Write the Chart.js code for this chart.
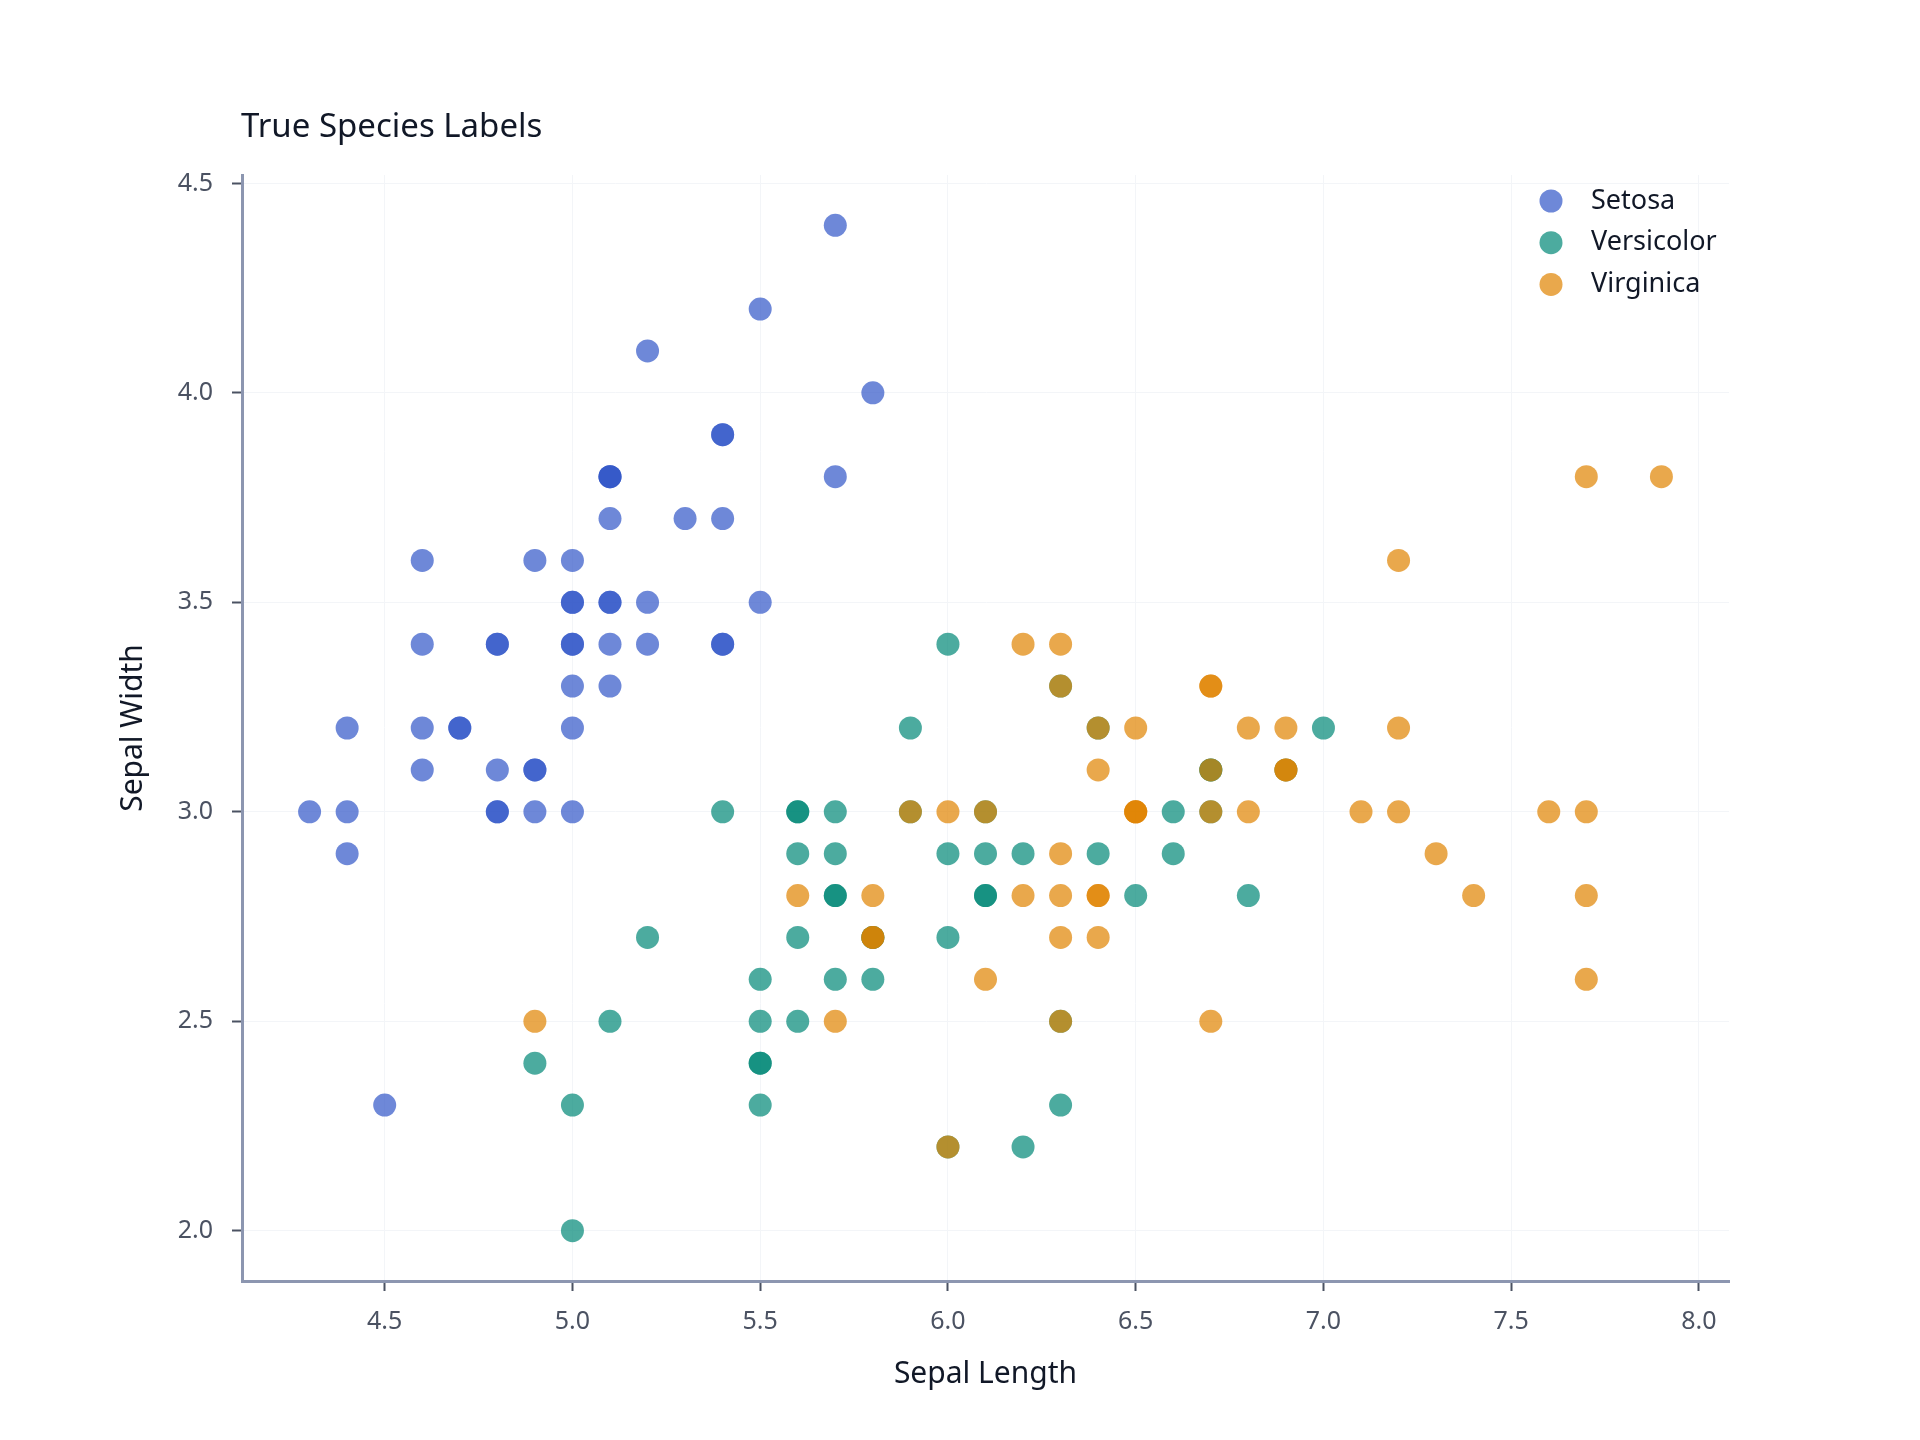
<!DOCTYPE html>
<html>
<head>
<meta charset="utf-8">
<script src="https://cdn.jsdelivr.net/npm/chart.js@4.4.1/dist/chart.umd.min.js"></script>
<style>
  html, body { margin: 0; padding: 0; background: #fff; }
  #wrap { width: 1920px; height: 1440px; }
</style>
</head>
<body>
<div id="wrap"><canvas id="chart" width="1920" height="1440"></canvas></div>
<script>
// Iris: sepal length / sepal width by species
const setosaLength = [5.1,4.9,4.7,4.6,5.0,5.4,4.6,5.0,4.4,4.9,5.4,4.8,4.8,4.3,5.8,5.7,5.4,5.1,5.7,5.1,5.4,5.1,4.6,5.1,4.8,5.0,5.0,5.2,5.2,4.7,4.8,5.4,5.2,5.5,4.9,5.0,5.5,4.9,4.4,5.1,5.0,4.5,4.4,5.0,5.1,4.8,5.1,4.6,5.3,5.0]
const setosaWidth  = [3.5,3.0,3.2,3.1,3.6,3.9,3.4,3.4,2.9,3.1,3.7,3.4,3.0,3.0,4.0,4.4,3.9,3.5,3.8,3.8,3.4,3.7,3.6,3.3,3.4,3.0,3.4,3.5,3.4,3.2,3.1,3.4,4.1,4.2,3.1,3.2,3.5,3.6,3.0,3.4,3.5,2.3,3.2,3.5,3.8,3.0,3.8,3.2,3.7,3.3]

const versicolorLength = [7.0,6.4,6.9,5.5,6.5,5.7,6.3,4.9,6.6,5.2,5.0,5.9,6.0,6.1,5.6,6.7,5.6,5.8,6.2,5.6,5.9,6.1,6.3,6.1,6.4,6.6,6.8,6.7,6.0,5.7,5.5,5.5,5.8,6.0,5.4,6.0,6.7,6.3,5.6,5.5,5.5,6.1,5.8,5.0,5.6,5.7,5.7,6.2,5.1,5.7]
const versicolorWidth  = [3.2,3.2,3.1,2.3,2.8,2.8,3.3,2.4,2.9,2.7,2.0,3.0,2.2,2.9,2.9,3.1,3.0,2.7,2.2,2.5,3.2,2.8,2.5,2.8,2.9,3.0,2.8,3.0,2.9,2.6,2.4,2.4,2.7,2.7,3.0,3.4,3.1,2.3,3.0,2.5,2.6,3.0,2.6,2.3,2.7,3.0,2.9,2.9,2.5,2.8]

const virginicaLength = [6.3,5.8,7.1,6.3,6.5,7.6,4.9,7.3,6.7,7.2,6.5,6.4,6.8,5.7,5.8,6.4,6.5,7.7,7.7,6.0,6.9,5.6,7.7,6.3,6.7,7.2,6.2,6.1,6.4,7.2,7.4,7.9,6.4,6.3,6.1,7.7,6.3,6.4,6.0,6.9,6.7,6.9,5.8,6.8,6.7,6.7,6.3,6.5,6.2,5.9]
const virginicaWidth  = [3.3,2.7,3.0,2.9,3.0,3.0,2.5,2.9,2.5,3.6,3.2,2.7,3.0,2.5,2.8,3.2,3.0,3.8,2.6,2.2,3.2,2.8,2.8,2.7,3.3,3.2,2.8,3.0,2.8,3.0,2.8,3.8,2.8,2.8,2.6,3.0,3.4,3.1,3.0,3.1,3.1,3.1,2.7,3.2,3.3,3.0,2.5,3.0,3.4,3.0]

const speciesNames = ['Setosa', 'Versicolor', 'Virginica']
const xTicks = [4.5, 5.0, 5.5, 6.0, 6.5, 7.0, 7.5, 8.0]
const yTicks = [2.0, 2.5, 3.0, 3.5, 4.0, 4.5]

const FONT = '"Noto Sans", "Open Sans", sans-serif'

function toPoints(xs, ys) {
  return xs.map((x, i) => ({ x, y: ys[i] }))
}

// order: lower value is painted later (on top), so virginica ends up on top
function makeSet(label, xs, ys, color, order) {
  return {
    label,
    data: toPoints(xs, ys),
    backgroundColor: color,
    borderWidth: 0,
    pointRadius: 11.5,
    pointHoverRadius: 11.5,
    order
  }
}

// title + legend drawn next to the plot area
const panelText = {
  id: 'panelText',
  afterDraw(chart) {
    const { ctx, chartArea } = chart
    ctx.save()
    ctx.textBaseline = 'middle'
    ctx.textAlign = 'left'
    ctx.fillStyle = '#111827'
    ctx.font = '33px ' + FONT
    ctx.fillText('True Species Labels', chartArea.left - 1, chartArea.top - 47)

    ctx.font = '27px ' + FONT
    chart.data.datasets.forEach((ds, i) => {
      const y = chartArea.top + 26 + i * 41.7
      const x = chartArea.right - 178
      ctx.fillStyle = ds.backgroundColor
      ctx.beginPath()
      ctx.arc(x, y, 11.5, 0, Math.PI * 2)
      ctx.fill()
      ctx.fillStyle = '#111827'
      ctx.fillText(ds.label, x + 40, y)
    })
    ctx.restore()
  }
}

const ctx = document.getElementById('chart')
new Chart(ctx, {
  type: 'scatter',
  data: {
    datasets: [
      makeSet(speciesNames[0], setosaLength, setosaWidth, 'rgba(49, 85, 199, 0.7)', 2),
      makeSet(speciesNames[1], versicolorLength, versicolorWidth, 'rgba(0, 136, 118, 0.7)', 1),
      makeSet(speciesNames[2], virginicaLength, virginicaWidth, 'rgba(224, 131, 0, 0.7)', 0)
    ]
  },
  options: {
    responsive: false,
    animation: false,
    devicePixelRatio: 1,
    layout: { padding: { top: 175, right: 191, bottom: 0, left: 100 } },
    plugins: {
      legend: { display: false },
      tooltip: { enabled: false },
      title: { display: false }
    },
    scales: {
      x: {
        type: 'linear',
        min: 4.12,
        max: 8.08,
        afterBuildTicks: (scale) => { scale.ticks = xTicks.map(v => ({ value: v })) },
        afterFit: (scale) => { scale.height = 159 },
        border: { display: true, color: '#8c96b0', width: 3 },
        grid: { color: '#f3f5f8', lineWidth: 1, tickLength: 10, tickColor: '#4b5262', tickWidth: 2 },
        ticks: {
          padding: 16,
          color: '#4b5262',
          font: { family: FONT, size: 25 },
          callback: (v) => Number(v).toFixed(1)
        },
        title: {
          display: true,
          text: 'Sepal Length',
          color: '#111827',
          font: { family: FONT, size: 30 },
          padding: { top: 8, bottom: 48 }
        }
      },
      y: {
        type: 'linear',
        min: 1.88,
        max: 4.52,
        afterBuildTicks: (scale) => { scale.ticks = yTicks.map(v => ({ value: v })) },
        afterFit: (scale) => { scale.width = 142 },
        border: { display: true, color: '#8c96b0', width: 3 },
        grid: { color: '#f3f5f8', lineWidth: 1, tickLength: 10, tickColor: '#4b5262', tickWidth: 2 },
        ticks: {
          padding: 19,
          color: '#4b5262',
          font: { family: FONT, size: 25 },
          callback: (v) => Number(v).toFixed(1)
        },
        title: {
          display: true,
          text: 'Sepal Width',
          color: '#111827',
          font: { family: FONT, size: 30 },
          padding: { top: 15, bottom: 0 }
        }
      }
    }
  },
  plugins: [panelText]
})
</script>
</body>
</html>
